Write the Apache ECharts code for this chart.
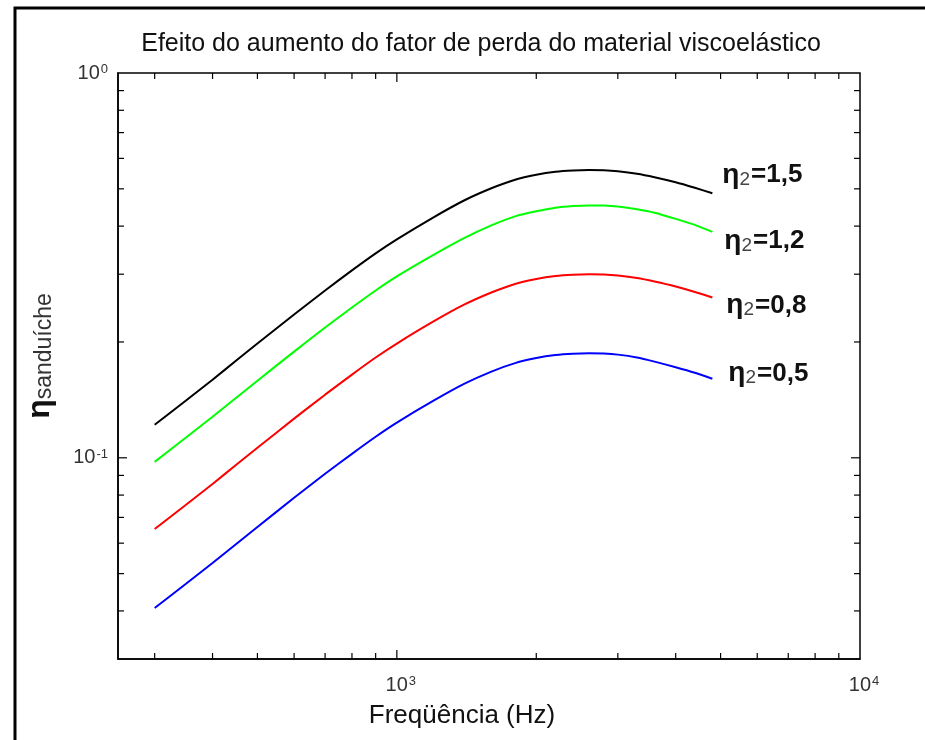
<!DOCTYPE html>
<html><head><meta charset="utf-8">
<script src="https://cdn.jsdelivr.net/npm/echarts@6/dist/echarts.min.js"></script>
<style>html,body{margin:0;padding:0;background:#fff}#c{width:925px;height:740px}</style>
</head><body><div id="c"></div>
<script>
// ---- data ----
const freq = [300, 350, 400, 450, 500, 600, 700, 800, 900, 1000, 1200, 1400, 1600, 1800, 2000, 2200, 2400, 2600, 2800, 3000, 3300, 3600, 4000, 4400, 4800];
const eta15 = [0.1219, 0.1407, 0.1596, 0.1789, 0.1981, 0.2357, 0.2722, 0.3069, 0.3398, 0.3695, 0.4217, 0.4670, 0.5017, 0.5280, 0.5440, 0.5538, 0.5581, 0.5595, 0.5588, 0.5555, 0.5472, 0.5359, 0.5200, 0.5031, 0.4870];
const eta12 = [0.0976, 0.1127, 0.1279, 0.1433, 0.1586, 0.1888, 0.2181, 0.2458, 0.2722, 0.2961, 0.3368, 0.3728, 0.4018, 0.4241, 0.4371, 0.4464, 0.4510, 0.4526, 0.4523, 0.4496, 0.4424, 0.4333, 0.4178, 0.4030, 0.3864];
const eta08 = [0.0653, 0.0754, 0.0855, 0.0959, 0.1062, 0.1264, 0.1459, 0.1645, 0.1822, 0.1981, 0.2261, 0.2503, 0.2689, 0.2830, 0.2916, 0.2969, 0.2992, 0.2999, 0.2996, 0.2978, 0.2934, 0.2873, 0.2788, 0.2698, 0.2610];
const eta05 = [0.0407, 0.0470, 0.0533, 0.0597, 0.0661, 0.0787, 0.0909, 0.1024, 0.1134, 0.1234, 0.1407, 0.1558, 0.1675, 0.1762, 0.1816, 0.1849, 0.1864, 0.1868, 0.1866, 0.1854, 0.1822, 0.1778, 0.1720, 0.1664, 0.1605];
const curveLabels = [['η', '2', '=1,5'], ['η', '2', '=1,2'], ['η', '2', '=0,8'], ['η', '2', '=0,5']];
const curveColors = ['#000000', '#00ff00', '#ff0000', '#0000ff'];
const xTicks = [300, 400, 500, 600, 700, 800, 900, 1000, 2000, 3000, 4000, 5000, 6000, 7000, 8000, 9000];
const yTicks = [0.04, 0.05, 0.06, 0.07, 0.08, 0.09, 0.1, 0.2, 0.3, 0.4, 0.5, 0.6, 0.7, 0.8, 0.9];
const xLabelPowers = [3, 4];
const yLabelPowers = [-1, 0];
const titleText = 'Efeito do aumento do fator de perda do material viscoelástico';
const xName = 'Freqüência (Hz)';
const yNameMain = 'η';
const yNameSub = 'sanduíche';

const FONT = "'Liberation Sans', Arial, sans-serif";
const chart = echarts.init(document.getElementById('c'), null, {renderer: 'canvas'});

function powOf(v) {
  const l = Math.log10(v);
  const r = Math.round(l);
  return Math.abs(l - r) < 1e-6 ? r : null;
}
function tickRenderer(axis) {
  return function (params, api) {
    const cs = params.coordSys;
    const v = api.value(axis === 'x' ? 0 : 1);
    const len = powOf(v) !== null ? 9 : 6;
    const pt = api.coord([api.value(0), api.value(1)]);
    const st = {stroke: '#000', lineWidth: 1.2};
    if (axis === 'x') {
      return {type: 'group', children: [
        {type: 'line', shape: {x1: pt[0], y1: cs.y + cs.height, x2: pt[0], y2: cs.y + cs.height - len}, style: st},
        {type: 'line', shape: {x1: pt[0], y1: cs.y, x2: pt[0], y2: cs.y + len}, style: st}
      ]};
    }
    return {type: 'group', children: [
      {type: 'line', shape: {x1: cs.x, y1: pt[1], x2: cs.x + len, y2: pt[1]}, style: st},
      {type: 'line', shape: {x1: cs.x + cs.width, y1: pt[1], x2: cs.x + cs.width - len, y2: pt[1]}, style: st}
    ]};
  };
}

const supRich = {
  b: {fontSize: 20, fontFamily: FONT, color: '#333'},
  s: {fontSize: 13, fontFamily: FONT, color: '#333', verticalAlign: 'top', padding: [0, 0, 0, 1]}
};

const lineData = [eta15, eta12, eta08, eta05];
const labelOffsets = [[2, -18], [4, 9], [6, 8], [8, -5]];
const series = lineData.map((arr, i) => ({
  type: 'line',
  name: curveLabels[i].join(''),
  data: freq.map((f, k) => [f, arr[k]]),
  showSymbol: false,
  smooth: 0.2,
  lineStyle: {color: curveColors[i], width: 2},
  itemStyle: {color: curveColors[i]},
  endLabel: {
    show: true,
    offset: labelOffsets[i],
    formatter: () => '{e|' + curveLabels[i][0] + '}{s|' + curveLabels[i][1] + '}{t|' + curveLabels[i][2] + '}',
    rich: {
      e: {fontSize: 28, fontWeight: 'bold', fontFamily: FONT, color: '#111', verticalAlign: 'middle'},
      s: {fontSize: 19, fontFamily: FONT, color: '#444', verticalAlign: 'bottom', padding: [0, 1, 0, 0]},
      t: {fontSize: 26, fontWeight: 'bold', fontFamily: FONT, color: '#111', verticalAlign: 'middle'}
    }
  },
  z: 3
}));
series.push({
  type: 'custom', renderItem: tickRenderer('x'), clip: false, silent: true, z: 5,
  data: xTicks.map(v => [v, 0.5])
});
series.push({
  type: 'custom', renderItem: tickRenderer('y'), clip: false, silent: true, z: 5,
  data: yTicks.map(v => [1000, v])
});

chart.setOption({
  animation: false,
  backgroundColor: '#fff',
  grid: {left: 118, top: 73, right: 65, bottom: 81, show: true, borderColor: '#000', borderWidth: 1.5, backgroundColor: 'transparent'},
  graphic: [
    {type: 'rect', shape: {x: 15, y: 8, width: 1000, height: 1000}, style: {fill: 'none', stroke: '#000', lineWidth: 3}, silent: true},
    {type: 'text', x: 481, y: 44, style: {text: titleText, font: '25px ' + FONT, fill: '#111', textAlign: 'center', textVerticalAlign: 'middle'}, silent: true}
  ],
  xAxis: {
    type: 'log', logBase: 10, min: 250, max: 10000,
    splitLine: {show: false}, axisTick: {show: false},
    axisLine: {show: true, lineStyle: {color: '#000', width: 1.5}},
    axisLabel: {
      margin: 16,
      formatter: v => { const p = powOf(v); return (p !== null && xLabelPowers.includes(p)) ? '{b|10}{s|' + p + '}' : ''; },
      rich: {b: Object.assign({}, supRich.b, {padding: [0, 0, 0, 8]}), s: supRich.s}
    },
    name: xName, nameLocation: 'middle', nameGap: 44,
    nameTextStyle: {fontSize: 26, fontFamily: FONT, color: '#111', padding: [0, 54, 0, 0]}
  },
  yAxis: {
    type: 'log', logBase: 10, min: 0.03, max: 1,
    splitLine: {show: false}, axisTick: {show: false},
    axisLine: {show: true, lineStyle: {color: '#000', width: 1.5}},
    axisLabel: {
      margin: 10,
      formatter: v => { const p = powOf(v); return (p !== null && yLabelPowers.includes(p)) ? '{b|10}{s|' + p + '}' : ''; },
      rich: supRich
    },
    name: '{e|' + yNameMain + '}{s|' + yNameSub + '}', nameLocation: 'middle', nameGap: 62,
    nameTextStyle: {
      padding: [0, 0, 0, 20],
      rich: {
        e: {fontSize: 32, fontWeight: 'bold', fontFamily: FONT, color: '#111'},
        s: {fontSize: 23, fontFamily: FONT, color: '#333', verticalAlign: 'bottom'}
      }
    }
  },
  series: series
});
</script></body></html>
